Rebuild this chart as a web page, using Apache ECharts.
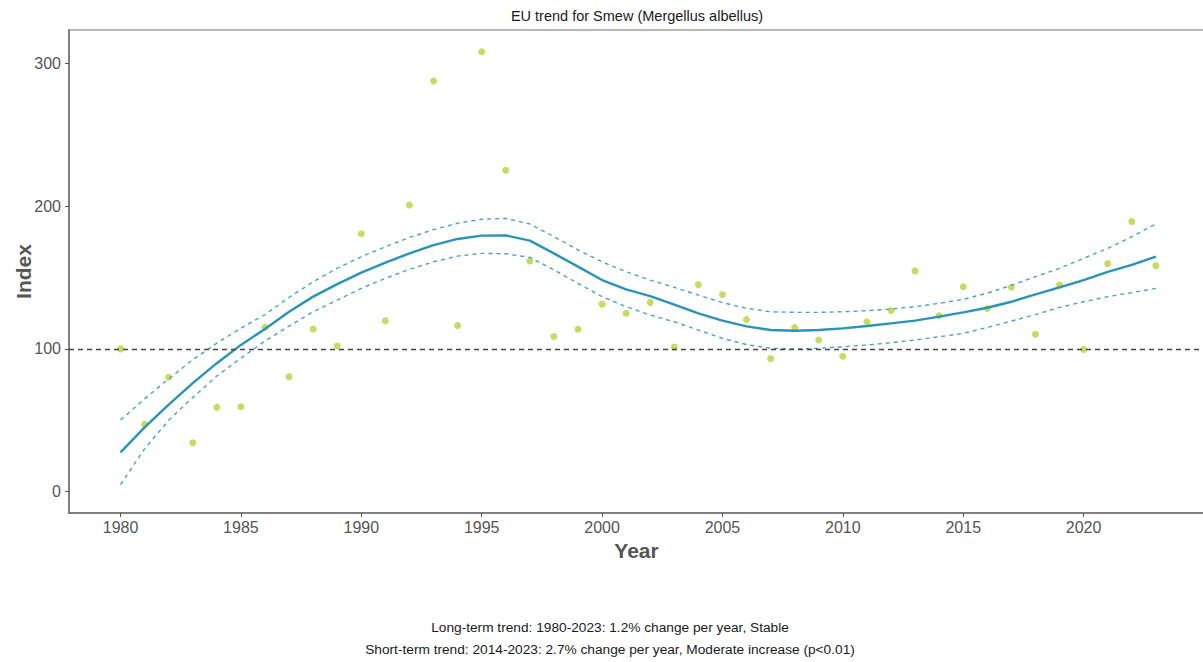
<!DOCTYPE html>
<html>
<head>
<meta charset="utf-8">
<title>EU trend for Smew (Mergellus albellus)</title>
<script src="https://cdn.jsdelivr.net/npm/echarts@6/dist/echarts.min.js"></script>
<style>
  html, body { margin: 0; padding: 0; background: #ffffff; }
  #chart { width: 1203px; height: 662px; }
</style>
</head>
<body>
<div id="chart"></div>
<script>
// Survey years
const years = [1980, 1981, 1982, 1983, 1984, 1985, 1986, 1987, 1988, 1989,
  1990, 1991, 1992, 1993, 1994, 1995, 1996, 1997, 1998, 1999,
  2000, 2001, 2002, 2003, 2004, 2005, 2006, 2007, 2008, 2009,
  2010, 2011, 2012, 2013, 2014, 2015, 2016, 2017, 2018, 2019,
  2020, 2021, 2022, 2023];

// Yearly population index (1980 = 100)
const indexValues = [100, 47.2, 80.1, 34.3, 59.1, 59.5, 115.1, 80.5, 114, 102,
  180.6, 119.7, 200.8, 287.6, 116.4, 308.1, 225.1, 161.6, 108.7, 113.8,
  131.3, 125, 132.6, 101.3, 145, 138.1, 120.6, 93.2, 115, 106.2,
  94.9, 119, 126.9, 154.6, 123.2, 143.5, 128.3, 143.2, 110.3, 144.7,
  99.6, 159.7, 189.2, 158.3];

// Smoothed trend and its confidence limits
const trendValues = [27.6, 45, 61, 76, 90, 102.8, 114, 126, 136.6, 145.4,
  153.4, 160.4, 166.9, 172.7, 177, 179.3, 179.5, 175.8, 166.9, 157.6,
  148.2, 141.7, 137, 131, 124.9, 119.8, 115.8, 113.2, 112.7, 113.2,
  114.4, 116, 117.9, 119.8, 122.6, 125.6, 128.8, 133, 138.2, 143.1,
  148.2, 154, 158.8, 164.6];

const upperValues = [50.2, 65, 79, 92.5, 104, 114.5, 124, 136, 147, 156.5,
  164.5, 171.5, 178, 183.5, 188, 190.8, 191.4, 187.5, 178.6, 169.3,
  161, 154, 148.2, 143.1, 137.7, 132.4, 128.4, 126, 125.6, 125.6,
  126, 126.8, 127.9, 129.6, 131.9, 134.7, 139, 144.5, 150.6, 156.4,
  163.4, 170.4, 178.6, 187.5];

const lowerValues = [5, 30, 50, 66, 81, 93.5, 105.5, 116, 126, 134.2,
  142.4, 149.4, 155.7, 161, 165, 166.9, 166.6, 164.1, 155.3, 145.9,
  136.6, 129.6, 123.7, 119, 113.2, 107.4, 103, 100.4, 99.9, 100.4,
  101.6, 102.7, 104.3, 106.2, 108.5, 110.9, 115, 119.5, 124, 129.1,
  133, 136.6, 139.4, 142.4];

const xTicks = [1980, 1985, 1990, 1995, 2000, 2005, 2010, 2015, 2020];
const yTicks = [0, 100, 200, 300];
const baseline = 100;

const titleText = 'EU trend for Smew (Mergellus albellus)';
const longTermText = 'Long-term trend: 1980-2023: 1.2% change per year, Stable';
const shortTermText = 'Short-term trend: 2014-2023: 2.7% change per year, Moderate increase (p<0.01)';

const pair = (vals) => years.map((y, i) => [y, vals[i]]);

const FONT = 'Liberation Sans, Arial, Helvetica, sans-serif';
const LINE = '#2a93b6';
const BAND = '#4aa2c2';
const POINT = '#b7d23a';

const chart = echarts.init(document.getElementById('chart'), null, { renderer: 'svg' });

const centredText = (text, x, y, size) => ({
  type: 'text', x: x, y: y, silent: true,
  style: { text: text, fill: '#1a1a1a', font: size + 'px ' + FONT, textAlign: 'center', textVerticalAlign: 'middle' }
});

chart.setOption({
  animation: false,
  backgroundColor: '#ffffff',
  textStyle: { fontFamily: FONT },
  grid: {
    left: 69, right: -1, top: 30, bottom: 149,
    containLabel: false,
    outerBoundsMode: 'none',
    show: true, borderColor: '#a0a0a0', borderWidth: 1.5, backgroundColor: 'transparent'
  },
  graphic: [
    centredText(titleText, 637, 16, 14.5),
    centredText(longTermText, 610, 627, 13.7),
    centredText(shortTermText, 610, 649, 13.7)
  ],
  xAxis: {
    type: 'value',
    min: 1977.86,
    max: 2025.0,
    name: 'Year',
    nameLocation: 'middle',
    nameGap: 23,
    nameTextStyle: { fontSize: 21, fontWeight: 'bold', color: '#555555', fontFamily: FONT },
    axisLine: { show: true, onZero: false, lineStyle: { color: '#6e6e6e', width: 1.5 } },
    axisTick: { show: true, length: 4, customValues: xTicks, lineStyle: { color: '#555555', width: 1 } },
    axisLabel: { customValues: xTicks, formatter: (v) => String(v), fontSize: 16, color: '#555555', margin: 6, fontFamily: FONT },
    splitLine: { show: false }
  },
  yAxis: {
    type: 'value',
    min: -14.9,
    max: 323.3,
    name: 'Index',
    nameLocation: 'middle',
    nameGap: 35,
    nameMoveOverlap: false,
    nameTextStyle: { fontSize: 21, fontWeight: 'bold', color: '#555555', fontFamily: FONT },
    axisLine: { show: true, onZero: false, lineStyle: { color: '#6e6e6e', width: 1.5 } },
    axisTick: { show: true, length: 4, customValues: yTicks, lineStyle: { color: '#555555', width: 1 } },
    axisLabel: { customValues: yTicks, formatter: (v) => String(v), fontSize: 16, color: '#555555', margin: 8, fontFamily: FONT },
    splitLine: { show: false }
  },
  series: [
    {
      name: 'Index',
      type: 'scatter',
      data: pair(indexValues),
      symbol: 'circle',
      symbolSize: 7,
      itemStyle: { color: POINT },
      silent: true,
      z: 2,
      markLine: {
        silent: true,
        symbol: 'none',
        label: { show: false },
        lineStyle: { type: [5, 4], color: '#454545', width: 1.3 },
        data: [{ yAxis: baseline }]
      }
    },
    {
      name: 'Upper',
      type: 'line',
      data: pair(upperValues),
      showSymbol: false,
      smooth: false,
      lineStyle: { color: BAND, width: 1.4, type: [4, 4] },
      silent: true,
      z: 3
    },
    {
      name: 'Lower',
      type: 'line',
      data: pair(lowerValues),
      showSymbol: false,
      smooth: false,
      lineStyle: { color: BAND, width: 1.4, type: [4, 4] },
      silent: true,
      z: 3
    },
    {
      name: 'Trend',
      type: 'line',
      data: pair(trendValues),
      showSymbol: false,
      smooth: false,
      lineStyle: { color: LINE, width: 2.4 },
      silent: true,
      z: 4
    }
  ]
});
</script>
</body>
</html>
